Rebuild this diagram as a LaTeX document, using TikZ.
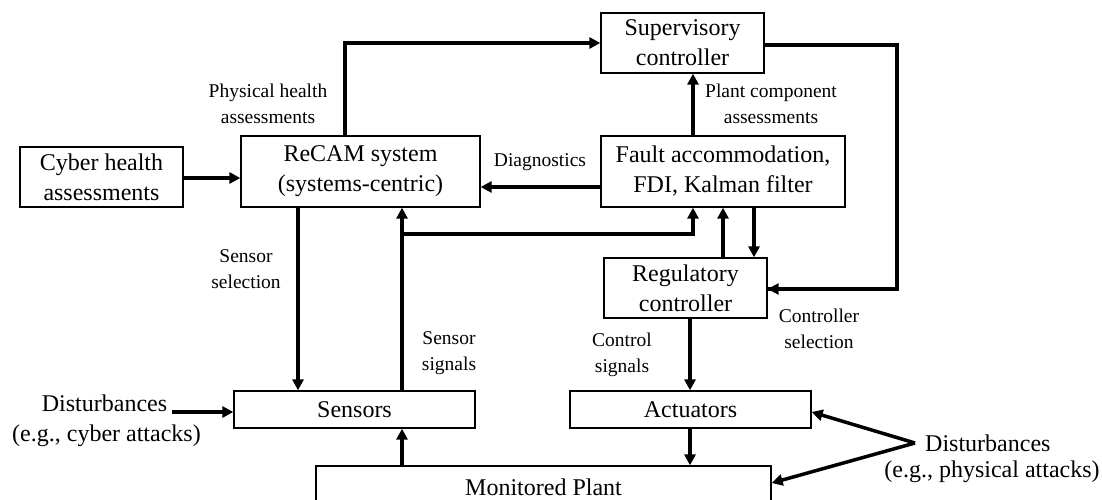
\documentclass[tikz,border=0pt]{standalone}
\usepackage{fontspec}
\setmainfont{Liberation Serif}
\usetikzlibrary{arrows.meta}
\begin{document}
\begin{tikzpicture}[x=1pt,y=-1pt,
  box/.style={draw,line width=1.3pt,inner sep=0pt,align=center,
    font=\fontsize{24}{30}\selectfont},
  lbl/.style={align=center,inner sep=0pt,font=\fontsize{19.5}{26}\selectfont},
  big/.style={align=center,inner sep=0pt,font=\fontsize{24}{31}\selectfont},
  flow/.style={line width=3.5pt,-{Triangle[length=11pt,width=11pt]}},
  wire/.style={line width=3.5pt}]
\useasboundingbox (0,0) rectangle (1102,500);
\clip (0,0) rectangle (1102,500);

% blocks
\node[box,minimum width=163pt,minimum height=60pt] (cyber) at (101.5,177) {Cyber health\\assessments};
\node[box,minimum width=239pt,minimum height=71pt] (recam) at (360.5,171.5) {ReCAM system\\(systems-centric)};
\node[box,minimum width=163pt,minimum height=60pt] (sup) at (682.5,43) {Supervisory\\controller};
\node[box,minimum width=244pt,minimum height=71pt] (fault) at (723,171.5) {Fault accommodation,\\FDI, Kalman filter};
\node[box,minimum width=163pt,minimum height=60pt] (reg) at (685.5,288) {Regulatory\\controller};
\node[box,minimum width=241pt,minimum height=37pt] (sens) at (354.5,409.5) {Sensors};
\node[box,minimum width=241pt,minimum height=37pt] (act) at (690.5,409.5) {Actuators};
\node[box,minimum width=455pt,minimum height=42pt] (plant) at (543.5,487) {Monitored Plant};

% connector labels
\node[lbl] (lphys) at (268,104) {Physical health\\assessments};
\node[lbl] (lplant) at (771,104) {Plant component\\assessments};
\node[lbl] (ldiag) at (540,162) {Diagnostics};
\node[lbl] (lssel) at (246,269) {Sensor\\selection};
\node[lbl] (lssig) at (449,353) {Sensor\\signals};
\node[lbl] (lcsig) at (622,355) {Control\\signals};
\node[lbl] (lcsel) at (819,329) {Controller\\selection};

% disturbances
\node[big] (dcyb) at (104.5,403) {Disturbances};
\node[big] (dcyb2) at (106.5,436) {(e.g., cyber attacks)};
\coordinate (dcybout) at (172,412);
\coordinate (dphys) at (915,443);
\node[big,anchor=west] (dph) at (925,443) {Disturbances};
\node[big] (dph2) at (992,472) {(e.g., physical attacks)};

% junctions and routing points
\coordinate (sigjoin) at (402,234);
\coordinate (supturn) at (897,45);

% connectors
\draw[flow] (cyber.east |- 0,178) -- (recam.west |- 0,178);
\draw[flow] (recam.north -| 345,0) |- (sup.west);
\draw[flow] (fault.north -| 693,0) -- (sup.south -| 693,0);
\draw[flow] (fault.west |- 0,187) -- (recam.east |- 0,187);
\draw[wire] (sup.east |- supturn) -- (supturn) |- (reg.east |- 0,289);
\draw[flow] (supturn |- 0,289) -- (reg.east |- 0,289);
\draw[flow] (recam.south -| 298,0) -- (sens.north -| 298,0);
\draw[flow] (sens.north -| sigjoin) -- (recam.south -| sigjoin);
\draw[flow] (sigjoin) -| (fault.south -| 693,0);
\draw[flow] (reg.north -| 723,0) -- (fault.south -| 723,0);
\draw[flow] (fault.south -| 754,0) -- (reg.north -| 754,0);
\draw[flow] (reg.south -| 690,0) -- (act.north -| 690,0);
\draw[flow] (act.south -| 690,0) -- (plant.north -| 690,0);
\draw[flow] (plant.north -| 402,0) -- (sens.south -| 402,0);
\draw[flow] (dcybout) -- (sens.west |- dcybout);
\draw[flow] (dphys) -- (act.east |- 0,412);
\draw[flow] (dphys) -- (plant.east |- 0,483);
\end{tikzpicture}
\end{document}
